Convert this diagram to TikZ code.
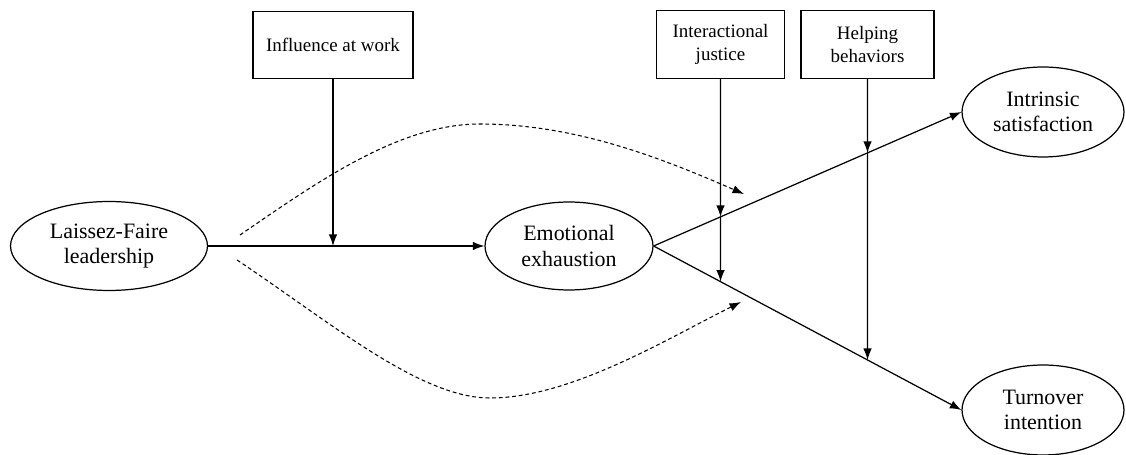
\documentclass[tikz,border=0pt]{standalone}
\usepackage{fontspec}
\setmainfont{Liberation Serif}
\usepackage{tikz}
\usetikzlibrary{shapes.geometric, arrows.meta}

\begin{document}
\begin{tikzpicture}[x=0.02cm, y=-0.02cm, line width=0.7pt,
        >={Latex[length=2.3mm, width=1.7mm]},
        latent/.style={draw, ellipse, inner sep=0pt, align=center,
                font=\fontsize{12.5}{14.5}\selectfont},
        moderator/.style={draw, rectangle, inner sep=0pt, align=center,
                minimum height=1.35cm, font=\fontsize{10.8}{13}\selectfont},
        path/.style={->},
        indirect/.style={->, dash pattern=on 2.2pt off 1.6pt, line width=0.6pt}]
                \useasboundingbox (0,0) rectangle (1126,455);
                % latent variables
                \node[latent, minimum width=3.94cm, minimum height=1.78cm] (lf) at (109,246) {Laissez-Faire\\leadership};
                \node[latent, minimum width=3.36cm, minimum height=1.76cm] (ee) at (569,246) {Emotional\\exhaustion};
                \node[latent, minimum width=3.24cm, minimum height=1.8cm] (is) at (1043,112) {Intrinsic\\satisfaction};
                \node[latent, minimum width=3.24cm, minimum height=1.8cm] (ti) at (1043,410) {Turnover\\intention};
                % moderators
                \node[moderator, minimum width=3.2cm] (iw) at (333,45) {Influence at work};
                \node[moderator, minimum width=2.56cm] (ij) at (720.5,44.5) {Interactional\\justice};
                \node[moderator, minimum width=2.66cm] (hb) at (867.5,44.5) {Helping\\behaviors};
                % main paths
                \draw[path] (lf.east) -- (ee.west);
                \draw[path] (ee.east) -- (is.west);
                \draw[path] (ee.east) -- (ti.west);
                % moderation arrows
                \coordinate (iwhit) at (iw.south |- lf.east);
                \coordinate (ijup) at (intersection of ij.south--ij.center and ee.east--is.west);
                \coordinate (ijlow) at (intersection of ij.south--ij.center and ee.east--ti.west);
                \coordinate (hbup) at (intersection of hb.south--hb.center and ee.east--is.west);
                \coordinate (hblow) at (intersection of hb.south--hb.center and ee.east--ti.west);
                \draw[path] (iw.south) -- (iwhit);
                \draw[path] (ij.south) -- (ijup);
                \draw[path] (ijup) -- (ijlow);
                \draw[path] (hb.south) -- (hbup);
                \draw[path] (hbup) -- (hblow);
                % indirect effects
                \coordinate (upstart) at (240,235);
                \coordinate (uptop) at (480,124);
                \coordinate (upend) at (744,194);
                \coordinate (lowstart) at (237,260);
                \coordinate (lowbottom) at (490,398);
                \coordinate (lowend) at (741,302);
                \draw[indirect] (upstart) .. controls (320,180) and (400,124) .. (uptop)
                        .. controls (580,124) and (670,162) .. (upend);
                \draw[indirect] (lowstart) .. controls (330,322) and (420,398) .. (lowbottom)
                        .. controls (570,398) and (665,340) .. (lowend);
            \end{tikzpicture}
\end{document}
